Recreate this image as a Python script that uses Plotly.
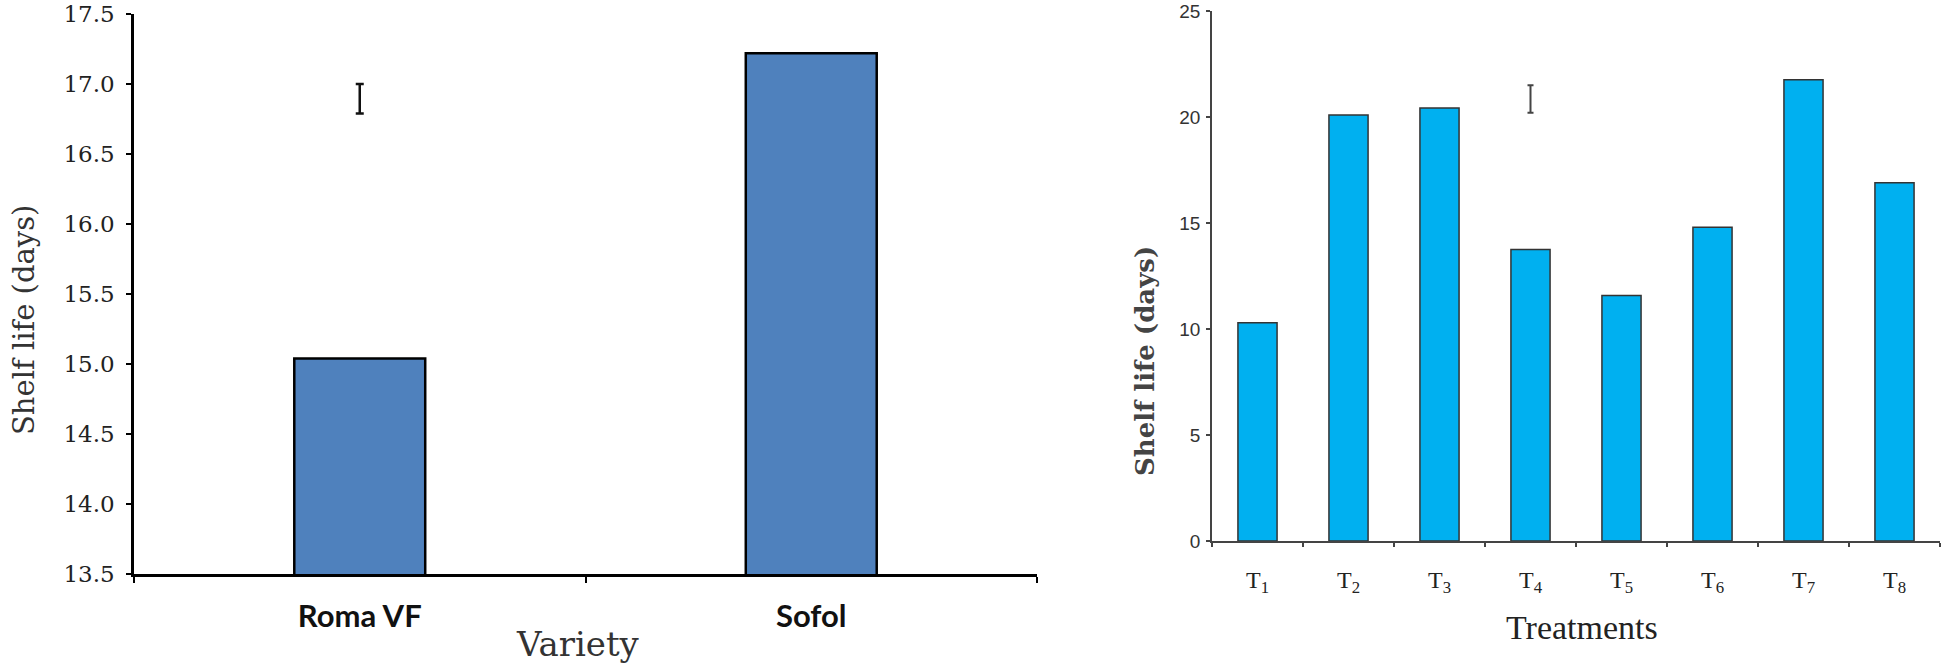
import plotly.graph_objects as go

# ---------------- data ----------------
varieties = ["Roma VF", "Sofol"]
variety_shelf_life = [15.04, 17.22]
variety_lsd_at = "Roma VF"
variety_lsd = [16.79, 17.00]          # low, high of LSD bar
variety_yticks = [13.5, 14.0, 14.5, 15.0, 15.5, 16.0, 16.5, 17.0, 17.5]

treatments = ["T<sub>1</sub>", "T<sub>2</sub>", "T<sub>3</sub>", "T<sub>4</sub>",
              "T<sub>5</sub>", "T<sub>6</sub>", "T<sub>7</sub>", "T<sub>8</sub>"]
treatment_shelf_life = [10.3, 20.1, 20.42, 13.75, 11.58, 14.8, 21.76, 16.9]
treatment_lsd_at = "T<sub>4</sub>"
treatment_lsd = [20.2, 21.5]
treatment_yticks = [0, 5, 10, 15, 20, 25]

W, H = 1946, 670

def px_x(p):
    return p / W

def px_y(p):
    return (H - p) / H

fig = go.Figure()

# ---------- left panel ----------
fig.add_trace(go.Bar(
    x=varieties, y=variety_shelf_life, width=0.29,
    marker=dict(color="#4F81BD", line=dict(color="#000000", width=2.5)),
    xaxis="x", yaxis="y", showlegend=False, hoverinfo="x+y",
))
fig.add_trace(go.Scatter(
    x=[variety_lsd_at], y=[(variety_lsd[0] + variety_lsd[1]) / 2],
    mode="markers", marker=dict(size=1, color="rgba(0,0,0,0)"),
    error_y=dict(type="data", symmetric=True,
                 array=[(variety_lsd[1] - variety_lsd[0]) / 2],
                 color="#111111", thickness=2.5, width=4),
    xaxis="x", yaxis="y", showlegend=False, hoverinfo="skip",
))

# ---------- right panel ----------
fig.add_trace(go.Bar(
    x=treatments, y=treatment_shelf_life, width=0.43,
    marker=dict(color="#00B0F0", line=dict(color="#333333", width=1.5)),
    xaxis="x2", yaxis="y2", showlegend=False, hoverinfo="y",
))
fig.add_trace(go.Scatter(
    x=[treatment_lsd_at], y=[(treatment_lsd[0] + treatment_lsd[1]) / 2],
    mode="markers", marker=dict(size=1, color="rgba(0,0,0,0)"),
    error_y=dict(type="data", symmetric=True,
                 array=[(treatment_lsd[1] - treatment_lsd[0]) / 2],
                 color="#444444", thickness=2, width=3),
    xaxis="x2", yaxis="y2", showlegend=False, hoverinfo="skip",
))

serif = "DejaVu Serif"

fig.update_layout(
    width=W, height=H,
    margin=dict(l=0, r=0, t=0, b=0),
    paper_bgcolor="white", plot_bgcolor="white",
    xaxis=dict(
        domain=[px_x(134), px_x(1037)],
        anchor="y", automargin=False,
        type="category", range=[-0.5, 1.5],
        showline=True, linecolor="#000000", linewidth=2.5,
        ticks="outside", ticklen=6, tickwidth=2, tickcolor="#000000",
        tickson="boundaries",
        showgrid=False, zeroline=False,
        tickfont=dict(family="Lato", size=31, color="#111111", weight="bold"),
        ticklabelstandoff=13,
    ),
    yaxis=dict(
        domain=[px_y(574), px_y(14)],
        anchor="x", automargin=False,
        range=[13.5, 17.5], tickvals=variety_yticks, tickformat=".1f",
        showline=True, linecolor="#000000", linewidth=2.5,
        ticks="outside", ticklen=5, tickwidth=2, tickcolor="#000000",
        showgrid=False, zeroline=False,
        tickfont=dict(family=serif, size=23, color="#222222"),
        ticklabelstandoff=7, ticklabeloverflow="allow",
    ),
    xaxis2=dict(
        domain=[px_x(1212), px_x(1940)],
        anchor="y2", automargin=False,
        type="category", range=[-0.5, 7.5],
        showline=True, linecolor="#444444", linewidth=1.5,
        ticks="outside", ticklen=4, tickwidth=1.5, tickcolor="#444444",
        tickson="boundaries",
        showgrid=False, zeroline=False,
        tickfont=dict(family="Liberation Serif", size=24, color="#222222"),
        ticklabelstandoff=16,
    ),
    yaxis2=dict(
        domain=[px_y(541), px_y(11)],
        anchor="x2", automargin=False,
        range=[0, 25], tickvals=treatment_yticks,
        showline=True, linecolor="#444444", linewidth=1.5,
        ticks="outside", ticklen=4, tickwidth=1.5, tickcolor="#444444",
        showgrid=False, zeroline=False,
        tickfont=dict(family="Liberation Sans", size=19, color="#333333"),
        ticklabelstandoff=2, ticklabeloverflow="allow",
    ),
    annotations=[
        dict(text="Shelf life (days)", x=px_x(24), y=px_y(320),
             xref="paper", yref="paper", xanchor="center", yanchor="middle",
             textangle=-90, showarrow=False,
             font=dict(family=serif, size=29, color="#333333")),
        dict(text="Variety", x=px_x(578), y=px_y(644),
             xref="paper", yref="paper", xanchor="center", yanchor="middle",
             showarrow=False,
             font=dict(family=serif, size=34, color="#333333")),
        dict(text="Shelf life (days)", x=px_x(1145), y=px_y(361),
             xref="paper", yref="paper", xanchor="center", yanchor="middle",
             textangle=-90, showarrow=False,
             font=dict(family=serif, size=26, color="#444444", weight="bold")),
        dict(text="Treatments", x=px_x(1582), y=px_y(627),
             xref="paper", yref="paper", xanchor="center", yanchor="middle",
             showarrow=False,
             font=dict(family="Liberation Serif", size=34, color="#222222")),
    ],
)

fig.write_html(
    "out.html",
    config={"displayModeBar": False},
    post_script="document.body.style.margin='0';document.body.style.overflow='hidden';",
)
